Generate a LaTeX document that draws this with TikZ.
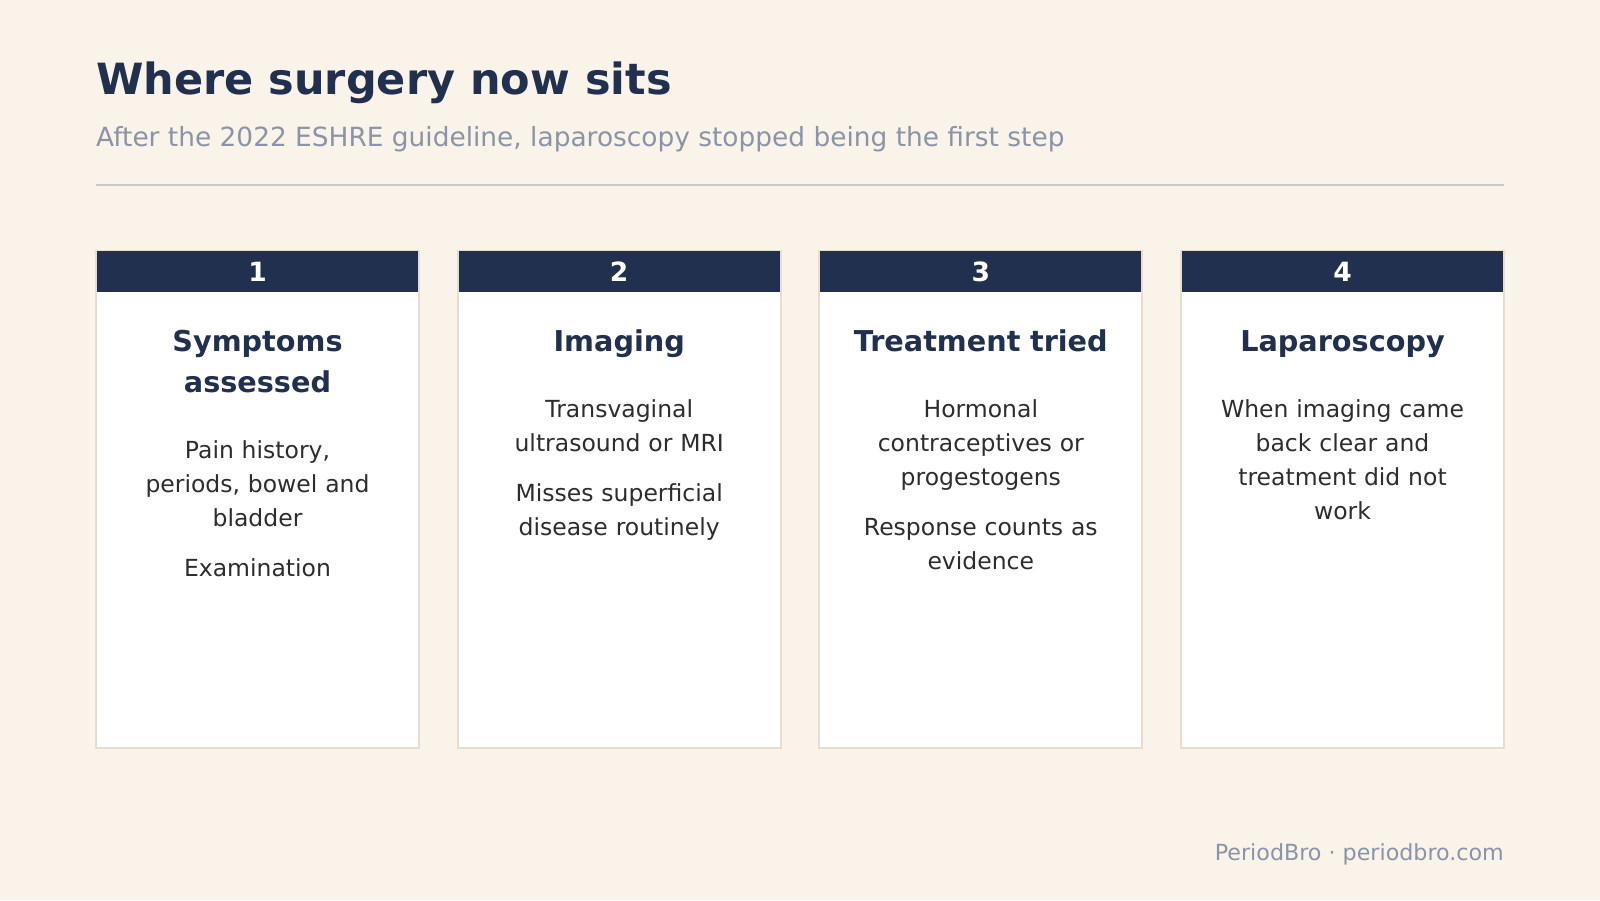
\documentclass[tikz,border=0pt]{standalone}
\usepackage{fontspec}
\setmainfont{DejaVu Sans}
\usepackage{xcolor}
\usepackage{tikz}
\usetikzlibrary{calc,positioning}
\definecolor{pbcream}{HTML}{FAF3EA}
\definecolor{pbnavy}{HTML}{22304F}
\definecolor{pbtext}{HTML}{2D2D2D}
\definecolor{pbmuted}{HTML}{8A94A6}
\definecolor{pbrule}{HTML}{C8C8CC}
\definecolor{pbedge}{HTML}{E6DDD0}
\tikzset{%
  pbcard/.style={%
    draw=pbedge,
    line width=2pt,
    fill=white,
    minimum width=323pt,
    minimum height=497pt,
    inner sep=0pt
  },
  pbhead/.style={%
    fill=pbnavy,
    anchor=north,
    minimum width=321pt,
    minimum height=41pt,
    inner sep=0pt,
    text=white,
    font=\fontsize{26.5}{30}\selectfont\bfseries
  },
  pbtitle/.style={%
    anchor=base,
    text width=300pt,
    align=center,
    inner sep=0pt,
    text=pbnavy,
    font=\fontsize{28.7}{41}\selectfont\bfseries
  },
  pbbody/.style={%
    anchor=base,
    text width=300pt,
    align=center,
    inner sep=0pt,
    text=pbtext,
    font=\fontsize{23.5}{34}\selectfont
  }
}
\begin{document}
\begin{tikzpicture}[x=1pt,y=-1pt]
    \fill[pbcream] (0,0) rectangle (1600,900);
    \useasboundingbox (0,0) rectangle (1600,900);

    \node[anchor=base west,inner sep=0pt,text=pbnavy,font=\fontsize{43}{50}\selectfont\bfseries] (title) at (96,94) {Where surgery now sits};
    \node[anchor=base west,inner sep=0pt,text=pbmuted,font=\fontsize{26.4}{30}\selectfont] (subtitle) at (96,146) {After the 2022 ESHRE guideline, laparoscopy stopped being the first step};
    \draw[pbrule,line width=2pt] (96,185) -- (1504,185);

    \node[pbcard] (card1) at (257.5,499) {};
    \node[pbcard] (card2) at (619.2,499) {};
    \node[pbcard] (card3) at (980.8,499) {};
    \node[pbcard] (card4) at (1342.5,499) {};

    \node[pbhead] (head1) at ([yshift=-1.5pt]card1.north) {1};
    \node[pbhead] (head2) at ([yshift=-1.5pt]card2.north) {2};
    \node[pbhead] (head3) at ([yshift=-1.5pt]card3.north) {3};
    \node[pbhead] (head4) at ([yshift=-1.5pt]card4.north) {4};

    \node[pbtitle] (step1) at ([yshift=-59pt]head1.south) {Symptoms\\assessed};
    \node[pbtitle] (step2) at ([yshift=-59pt]head2.south) {Imaging};
    \node[pbtitle] (step3) at ([yshift=-59pt]head3.south) {Treatment tried};
    \node[pbtitle] (step4) at ([yshift=-59pt]head4.south) {Laparoscopy};

    \node[pbbody] (body1) at ([yshift=-166pt]head1.south) {Pain history,\\periods, bowel and\\bladder\\[16pt]Examination};
    \node[pbbody] (body2) at ([yshift=-125pt]head2.south) {Transvaginal\\ultrasound or MRI\\[16pt]Misses superficial\\disease routinely};
    \node[pbbody] (body3) at ([yshift=-125pt]head3.south) {Hormonal\\contraceptives or\\progestogens\\[16pt]Response counts as\\evidence};
    \node[pbbody] (body4) at ([yshift=-125pt]head4.south) {When imaging came\\back clear and\\treatment did not\\work};

    \node[anchor=base east,inner sep=0pt,text=pbmuted,font=\fontsize{22.2}{26}\selectfont] (footer) at (1504,860) {PeriodBro · periodbro.com};
  \end{tikzpicture}
\end{document}
